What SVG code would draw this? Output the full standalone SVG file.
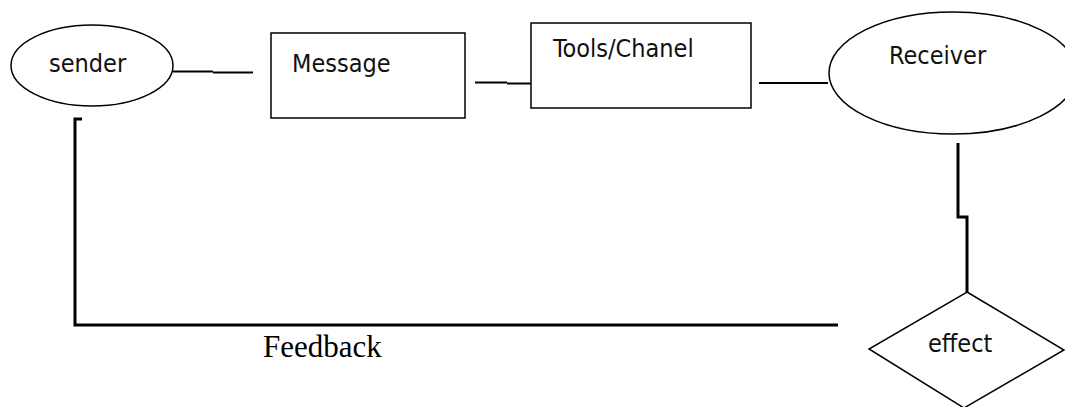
<svg xmlns="http://www.w3.org/2000/svg" width="1065" height="407" viewBox="0 0 1065 407">
  <style>
    .shape { fill: #ffffff; stroke: #000000; stroke-width: 1.5; }
    .label { font-family: "DejaVu Sans Condensed", "DejaVu Sans", Verdana, sans-serif; font-stretch: condensed; font-size: 25px; fill: #111111; }
    .serif { font-family: "Liberation Serif", "Times New Roman", serif; font-size: 31px; fill: #000000; }
    .wire { fill: none; stroke: #000000; stroke-width: 2; }
    .wire-bold { fill: none; stroke: #000000; stroke-width: 3; }
  </style>

  <rect width="1065" height="407" fill="#ffffff"/>

  <!-- connectors -->
  <g id="connectors">
    <path class="wire" d="M173 71.5 H213 M213 72.5 H253"/>
    <path class="wire" d="M475 82.5 H507 M507 83.5 H531"/>
    <path class="wire" d="M759 83 H828"/>
    <path class="wire-bold" d="M958 143 V217 H967 V292"/>
    <path class="wire-bold" d="M82 119 H75 V325 H838"/>
    <text class="serif" x="263" y="357">Feedback</text>
  </g>

  <g id="sender">
    <ellipse class="shape" cx="92" cy="65.5" rx="81" ry="40.5"/>
    <text class="label" x="49" y="72">sender</text>
  </g>

  <g id="message">
    <rect class="shape" x="271" y="33" width="194" height="85"/>
    <text class="label" x="292" y="72">Message</text>
  </g>

  <g id="channel">
    <rect class="shape" x="531" y="23" width="220" height="85"/>
    <text class="label" x="553" y="57">Tools/Chanel</text>
  </g>

  <g id="receiver">
    <ellipse class="shape" cx="953" cy="73" rx="124" ry="61"/>
    <text class="label" x="889" y="64">Receiver</text>
  </g>

  <g id="effect">
    <polygon class="shape" points="967,292 1064,350 964,408 869,349"/>
    <text class="label" x="928" y="352">effect</text>
  </g>
</svg>
